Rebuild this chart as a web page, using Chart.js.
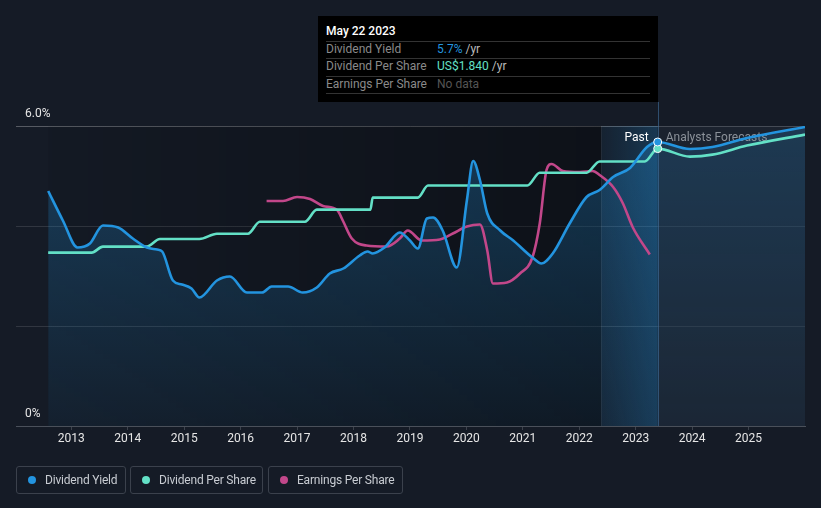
<!DOCTYPE html>
<html>
<head>
<meta charset="utf-8">
<script src="https://cdn.jsdelivr.net/npm/chart.js@4.4.1/dist/chart.umd.min.js"></script>
<style>
  html, body { margin: 0; padding: 0; background: #151b26; }
  body { width: 821px; height: 508px; overflow: hidden; position: relative; font-family: Roboto, "Noto Sans", sans-serif; }
  #chart { position: absolute; left: 0; top: 0; }
  .tip { position: absolute; left: 318px; top: 16px; width: 340px; height: 86px; background: #000; font-size: 12px; }
  .tip div { position: absolute; line-height: 16px; white-space: nowrap; }
  .tip .sep { left: 8px; width: 324px; height: 1px; background: #333; }
  .tip .title { left: 8px; top: 7px; color: #fff; font-weight: 500; }
  .tip .lab { left: 8px; color: #8a8a8a; }
  .tip .val { left: 119px; color: #bbb; }
  .legend { position: absolute; top: 466px; height: 26px; border: 1px solid #3b414c; border-radius: 3px; font-size: 12px; color: #c8ccd2; line-height: 26px; box-sizing: content-box; }
  .legend i { position: absolute; left: 11px; top: 9px; width: 8px; height: 8px; border-radius: 50%; }
  .legend span { position: absolute; left: 28px; white-space: nowrap; letter-spacing: -0.2px; }
</style>
</head>
<body>
<canvas id="chart" width="821" height="508"></canvas>

<div class="tip">
  <div class="title">May 22 2023</div>
  <div class="sep" style="top:25px"></div>
  <div class="lab" style="top:25px">Dividend Yield</div>
  <div class="val" style="top:25px"><span style="color:#2394df">5.7%</span> /yr</div>
  <div class="sep" style="top:42px"></div>
  <div class="lab" style="top:42px">Dividend Per Share</div>
  <div class="val" style="top:42px"><span style="color:#63e0c6">US$1.840</span> /yr</div>
  <div class="sep" style="top:60px"></div>
  <div class="lab" style="top:60px">Earnings Per Share</div>
  <div class="val" style="top:60px; color:#555">No data</div>
  <div class="sep" style="top:77px"></div>
</div>

<div class="legend" style="left:16px; width:108px"><i style="background:#2394df"></i><span>Dividend Yield</span></div>
<div class="legend" style="left:130px; width:131px"><i style="background:#63e0c6"></i><span>Dividend Per Share</span></div>
<div class="legend" style="left:268px; width:133px"><i style="background:#c2478a"></i><span>Earnings Per Share</span></div>

<script>
// dividend yield, % (left axis)
const yieldYears = [2012.59, 2012.85, 2013.11, 2013.33, 2013.56, 2013.83, 2014.09, 2014.34, 2014.52, 2014.61,
  2014.80, 2014.96, 2015.13, 2015.27, 2015.58, 2015.81, 2016.11, 2016.38, 2016.55, 2016.84,
  2017.10, 2017.35, 2017.58, 2017.82, 2018.11, 2018.25, 2018.34, 2018.55, 2018.82, 2019.00,
  2019.14, 2019.30, 2019.41, 2019.58, 2019.83, 2020.01, 2020.12, 2020.24, 2020.37, 2020.60,
  2020.83, 2021.17, 2021.33, 2021.53, 2021.83, 2022.13, 2022.36, 2022.60, 2022.90, 2023.20,
  2023.39, 2023.96, 2024.36, 2024.97, 2026.0];
const yieldPct = [4.70, 4.11, 3.57, 3.65, 4.01, 3.97, 3.75, 3.57, 3.53, 3.49,
  2.91, 2.83, 2.75, 2.57, 2.91, 2.99, 2.67, 2.67, 2.79, 2.79,
  2.67, 2.77, 3.05, 3.15, 3.41, 3.49, 3.45, 3.57, 3.87, 3.71,
  3.55, 4.15, 4.17, 3.91, 3.17, 4.52, 5.30, 4.92, 4.25, 3.91,
  3.71, 3.37, 3.25, 3.45, 4.05, 4.58, 4.72, 4.98, 5.16, 5.58,
  5.68, 5.54, 5.58, 5.76, 5.98];

// dividend per share, US$
const dpsYears = [2012.59, 2013.36, 2013.56, 2014.34, 2014.57, 2015.27, 2015.58, 2016.13, 2016.34, 2017.14,
  2017.35, 2018.30, 2018.34, 2019.14, 2019.32, 2021.08, 2021.30, 2022.13, 2022.36, 2023.16,
  2023.39, 2023.96, 2024.36, 2024.97, 2026.0];
const dpsValues = [1.15, 1.15, 1.19, 1.19, 1.24, 1.24, 1.275, 1.275, 1.355, 1.355,
  1.435, 1.435, 1.515, 1.515, 1.595, 1.595, 1.68, 1.68, 1.755, 1.755,
  1.84, 1.787, 1.80, 1.86, 1.933];

// earnings per share, US$
const epsYears = [2016.46, 2016.75, 2017.00, 2017.23, 2017.46, 2017.71, 2017.81, 2017.97, 2018.23, 2018.59,
  2018.82, 2018.96, 2019.21, 2019.53, 2019.76, 2020.01, 2020.24, 2020.37, 2020.47, 2020.72,
  2020.95, 2021.17, 2021.30, 2021.42, 2021.51, 2021.71, 2022.01, 2022.24, 2022.36, 2022.60,
  2022.77, 2022.95, 2023.25];
const epsValues = [2.25, 2.25, 2.29, 2.27, 2.20, 2.16, 2.055, 1.875, 1.805, 1.795,
  1.875, 1.955, 1.855, 1.865, 1.925, 1.995, 2.015, 1.755, 1.425, 1.435,
  1.525, 1.685, 2.025, 2.56, 2.62, 2.55, 2.54, 2.55, 2.51, 2.39,
  2.23, 1.985, 1.715];

const xTickYears = [2013, 2014, 2015, 2016, 2017, 2018, 2019, 2020, 2021, 2022, 2023, 2024, 2025];
const yTickValues = [0, 2, 4, 6];
const yTickLabels = ['0%', '', '', '6.0%'];

const NOW = 2023.39;        // May 22 2023
const BAND_START = 2022.39;
const X_MIN = 2012.02, X_MAX = 2026.0;

const BLUE = '#2394df', TEAL = '#63e0c6', PINK = '#c2478a';
const FONT = 'Roboto, "Noto Sans", sans-serif';

const toPts = (xs, ys) => xs.map((x, i) => ({x: x, y: ys[i]}));
const nowRadius = c => (c.raw && c.raw.x === NOW ? 4 : 0);

const backdrop = {
    id: 'backdrop',
    beforeDatasetsDraw(chart) {
        const {ctx, chartArea: a, scales: {x}} = chart;
        const x0 = x.getPixelForValue(yieldYears[0]);
        const xb = x.getPixelForValue(BAND_START);
        ctx.save();
        const g = ctx.createLinearGradient(x0, 0, xb, 0);
        g.addColorStop(0, 'rgba(0,0,0,0.05)');
        g.addColorStop(1, 'rgba(0,0,0,0.35)');
        ctx.fillStyle = g;
        ctx.fillRect(x0, a.top, xb - x0, a.bottom - a.top);
        ctx.restore();
    },
    afterDatasetDraw(chart, args) {
        if (args.index !== 3) return;
        const {ctx, chartArea: a, scales: {x}} = chart;
        const xb = x.getPixelForValue(BAND_START);
        const xn = x.getPixelForValue(NOW);
        ctx.save();
        // last-year highlight band
        const g = ctx.createLinearGradient(xb, 0, xn, 0);
        g.addColorStop(0, 'rgba(35,148,223,0.06)');
        g.addColorStop(1, 'rgba(35,148,223,0.24)');
        ctx.fillStyle = g;
        ctx.fillRect(xb, a.top, xn - xb, a.bottom - a.top);
        // forecast area
        ctx.fillStyle = 'rgba(40,48,62,0.35)';
        ctx.fillRect(xn, a.top, a.right - xn, a.bottom - a.top);

        ctx.strokeStyle = 'rgba(255,255,255,0.07)';
        ctx.lineWidth = 1;
        ctx.beginPath();
        ctx.moveTo(Math.round(xb) + 0.5, a.top);
        ctx.lineTo(Math.round(xb) + 0.5, a.bottom);
        ctx.stroke();
        ctx.strokeStyle = 'rgba(70,120,170,0.55)';
        ctx.beginPath();
        ctx.moveTo(Math.round(xn) + 0.5, 102);
        ctx.lineTo(Math.round(xn) + 0.5, a.bottom);
        ctx.stroke();

        ctx.font = '12px ' + FONT;
        ctx.textBaseline = 'middle';
        ctx.textAlign = 'right';
        ctx.fillStyle = '#ffffff';
        ctx.fillText('Past', xn - 9, 138);
        ctx.textAlign = 'left';
        ctx.fillStyle = '#8b9199';
        ctx.fillText('Analysts Forecasts', xn + 8, 138);
        ctx.restore();
    }
};

new Chart(document.getElementById('chart'), {
    type: 'line',
    data: {
        datasets: [{
            label: 'Dividend Yield',
            data: toPts(yieldYears, yieldPct),
            yAxisID: 'y',
            borderColor: BLUE,
            borderWidth: 2.6,
            pointRadius: nowRadius,
            pointBackgroundColor: BLUE,
            pointBorderColor: '#ffffff',
            pointBorderWidth: 1,
            cubicInterpolationMode: 'monotone',
            fill: false,
            order: 1
        }, {
            label: 'Dividend Per Share',
            data: toPts(dpsYears, dpsValues),
            yAxisID: 'yDps',
            borderColor: TEAL,
            borderWidth: 2.6,
            pointRadius: nowRadius,
            pointBackgroundColor: TEAL,
            pointBorderColor: '#ffffff',
            pointBorderWidth: 1,
            cubicInterpolationMode: 'monotone',
            fill: false,
            order: 2
        }, {
            label: 'Earnings Per Share',
            data: toPts(epsYears, epsValues),
            yAxisID: 'yEps',
            borderColor: PINK,
            borderWidth: 2.6,
            pointRadius: 0,
            cubicInterpolationMode: 'monotone',
            fill: false,
            order: 3
        }, {
            label: 'yield area',
            data: toPts(yieldYears, yieldPct),
            yAxisID: 'y',
            borderWidth: 0,
            pointRadius: 0,
            cubicInterpolationMode: 'monotone',
            fill: 'origin',
            backgroundColor: c => {
                const a = c.chart.chartArea;
                if (!a) return 'transparent';
                const g = c.chart.ctx.createLinearGradient(0, a.top, 0, a.bottom);
                g.addColorStop(0, 'rgba(35,148,223,0.30)');
                g.addColorStop(1, 'rgba(35,148,223,0.06)');
                return g;
            },
            order: 10
        }]
    },
    options: {
        responsive: false,
        animation: false,
        devicePixelRatio: 1,
        events: [],
        layout: {padding: {left: 16, right: 16, top: 126, bottom: 52}},
        plugins: {legend: {display: false}, tooltip: {enabled: false}},
        scales: {
            x: {
                type: 'linear',
                min: X_MIN,
                max: X_MAX,
                afterFit: s => { s.height = 30; },
                afterBuildTicks: s => { s.ticks = xTickYears.map(v => ({value: v})); },
                grid: {drawOnChartArea: false, drawTicks: true, tickLength: 4, color: '#3c424c'},
                border: {display: true, color: '#4a505a', width: 1},
                ticks: {
                    color: '#e6e6e6', padding: 2, maxRotation: 0, autoSkip: false,
                    font: {size: 12, family: FONT},
                    callback: v => String(v)
                }
            },
            y: {
                min: 0,
                max: 6,
                afterFit: s => { s.width = 0; },
                afterBuildTicks: s => { s.ticks = yTickValues.map(v => ({value: v})); },
                grid: {
                    drawTicks: false,
                    color: c => c.tick.value === 6 ? 'rgba(255,255,255,0.28)' : (c.tick.value === 0 ? 'rgba(0,0,0,0)' : 'rgba(255,255,255,0.12)')
                },
                border: {display: false},
                ticks: {
                    mirror: true, padding: 9, labelOffset: -12, color: '#e6e6e6',
                    font: {size: 12, family: FONT},
                    callback: v => yTickLabels[yTickValues.indexOf(v)]
                }
            },
            yDps: {display: false, min: 0, max: 1.99},
            yEps: {display: false, min: 0, max: 3}
        }
    },
    plugins: [backdrop]
});
</script>
</body>
</html>
